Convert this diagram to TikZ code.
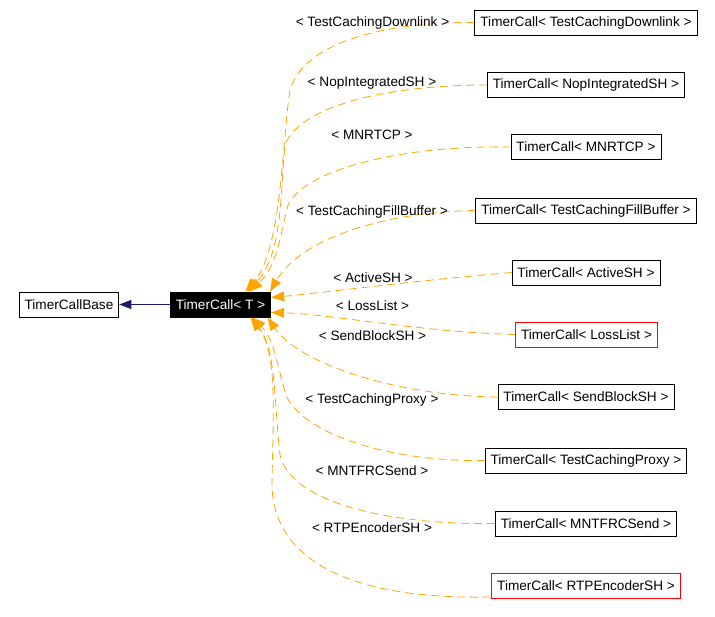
\documentclass[tikz,border=0pt]{standalone}
\usepackage{fontspec}
\setmainfont{Liberation Sans}
\usepackage{tikz}
\usetikzlibrary{arrows.meta}

\begin{document}
\begin{tikzpicture}[
  x=1pt, y=-1pt,
  font=\fontsize{13.6}{15}\selectfont,
  cls/.style={rectangle, draw=black, line width=0.9pt, fill=white,
    inner xsep=5.5pt, inner ysep=0pt, minimum height=25pt},
  clsred/.style={cls, draw=red},
  inst/.style={-{Triangle[length=13pt,width=10pt,fill=dxOrange]},
    draw=dxOrange, line width=0.8pt, dash pattern=on 8pt off 5pt},
  base/.style={-{Triangle[length=12pt,width=9pt,fill=dxNavy]},
    draw=dxNavy, line width=0.8pt},
  lbl/.style={inner sep=0pt},
]
\definecolor{dxOrange}{HTML}{FFA500}
\definecolor{dxNavy}{HTML}{191970}
\useasboundingbox (0,0) rectangle (715,616);

% template and its base class
\node[cls] (tcbase) at (69,304.5) {TimerCallBase};
\node[cls, fill=black, draw=black, text=white] (tcT) at (220.5,304.5)
  {TimerCall< T >};

% instantiations
\node[cls] (iDownlink) at (586,22.5) {TimerCall< TestCachingDownlink >};
\node[cls] (iNop) at (586,85) {TimerCall< NopIntegratedSH >};
\node[cls] (iMnrtcp) at (586,147) {TimerCall< MNRTCP >};
\node[cls] (iFill) at (586,210.5) {TimerCall< TestCachingFillBuffer >};
\node[cls] (iActive) at (586,272.5) {TimerCall< ActiveSH >};
\node[clsred] (iLoss) at (586.5,334.5) {TimerCall< LossList >};
\node[cls] (iSend) at (586,397) {TimerCall< SendBlockSH >};
\node[cls] (iProxy) at (586,460.5) {TimerCall< TestCachingProxy >};
\node[cls] (iMntfrc) at (586,523.5) {TimerCall< MNTFRCSend >};
\node[clsred] (iRtp) at (586,586) {TimerCall< RTPEncoderSH >};

\draw[base] (tcT) -- (tcbase);

% template argument edges, all ending on TimerCall< T >
\draw[inst] (iDownlink.west) .. controls (390,22) and (305,40) .. (290,90)
  .. controls (282,140) and (282,250) .. ([xshift=25pt]tcT.north);
\draw[inst] (iNop.west) .. controls (390,85) and (300,105) .. (285,145)
  .. controls (280,200) and (282,255) .. ([xshift=27pt]tcT.north);
\draw[inst] (iMnrtcp.west) .. controls (400,145) and (305,170) .. (288,205)
  .. controls (280,235) and (278,265) .. ([xshift=29pt]tcT.north);
\draw[inst] (iFill.west) .. controls (380,212) and (300,240) ..
  ([xshift=49.5pt]tcT.north);
\draw[inst] (iActive.west) .. controls (420,280) and (330,292) ..
  ([yshift=7pt]tcT.east);
\draw[inst] (iLoss.west) .. controls (420,332) and (330,314) ..
  ([yshift=-8pt]tcT.east);
\draw[inst] (iSend.west) .. controls (400,396) and (300,365) ..
  ([xshift=47pt]tcT.south);
\draw[inst] (iProxy.west) .. controls (380,462) and (300,430) .. (286,395)
  .. controls (278,370) and (275,340) .. ([xshift=32pt]tcT.south);
\draw[inst] (iMntfrc.west) .. controls (380,525) and (290,500) .. (280,455)
  .. controls (274,400) and (276,350) .. ([xshift=31pt]tcT.south);
\draw[inst] ([yshift=-11pt]iRtp.west) .. controls (350,600) and (270,560) ..
  (272,480) .. controls (274,400) and (276,350) .. ([xshift=30pt]tcT.south);

% template argument labels
\node[lbl] (lDownlink) at (372.5,23) {< TestCachingDownlink >};
\node[lbl] (lNop) at (372,83) {< NopIntegratedSH >};
\node[lbl] (lMnrtcp) at (372,134.5) {< MNRTCP >};
\node[lbl] (lFill) at (372,212) {< TestCachingFillBuffer >};
\node[lbl] (lActive) at (373,278) {< ActiveSH >};
\node[lbl] (lLoss) at (372.5,306) {< LossList >};
\node[lbl] (lSend) at (372.5,336) {< SendBlockSH >};
\node[lbl] (lProxy) at (372,400) {< TestCachingProxy >};
\node[lbl] (lMntfrc) at (372,471) {< MNTFRCSend >};
\node[lbl] (lRtp) at (372,528) {< RTPEncoderSH >};
\end{tikzpicture}
\end{document}
